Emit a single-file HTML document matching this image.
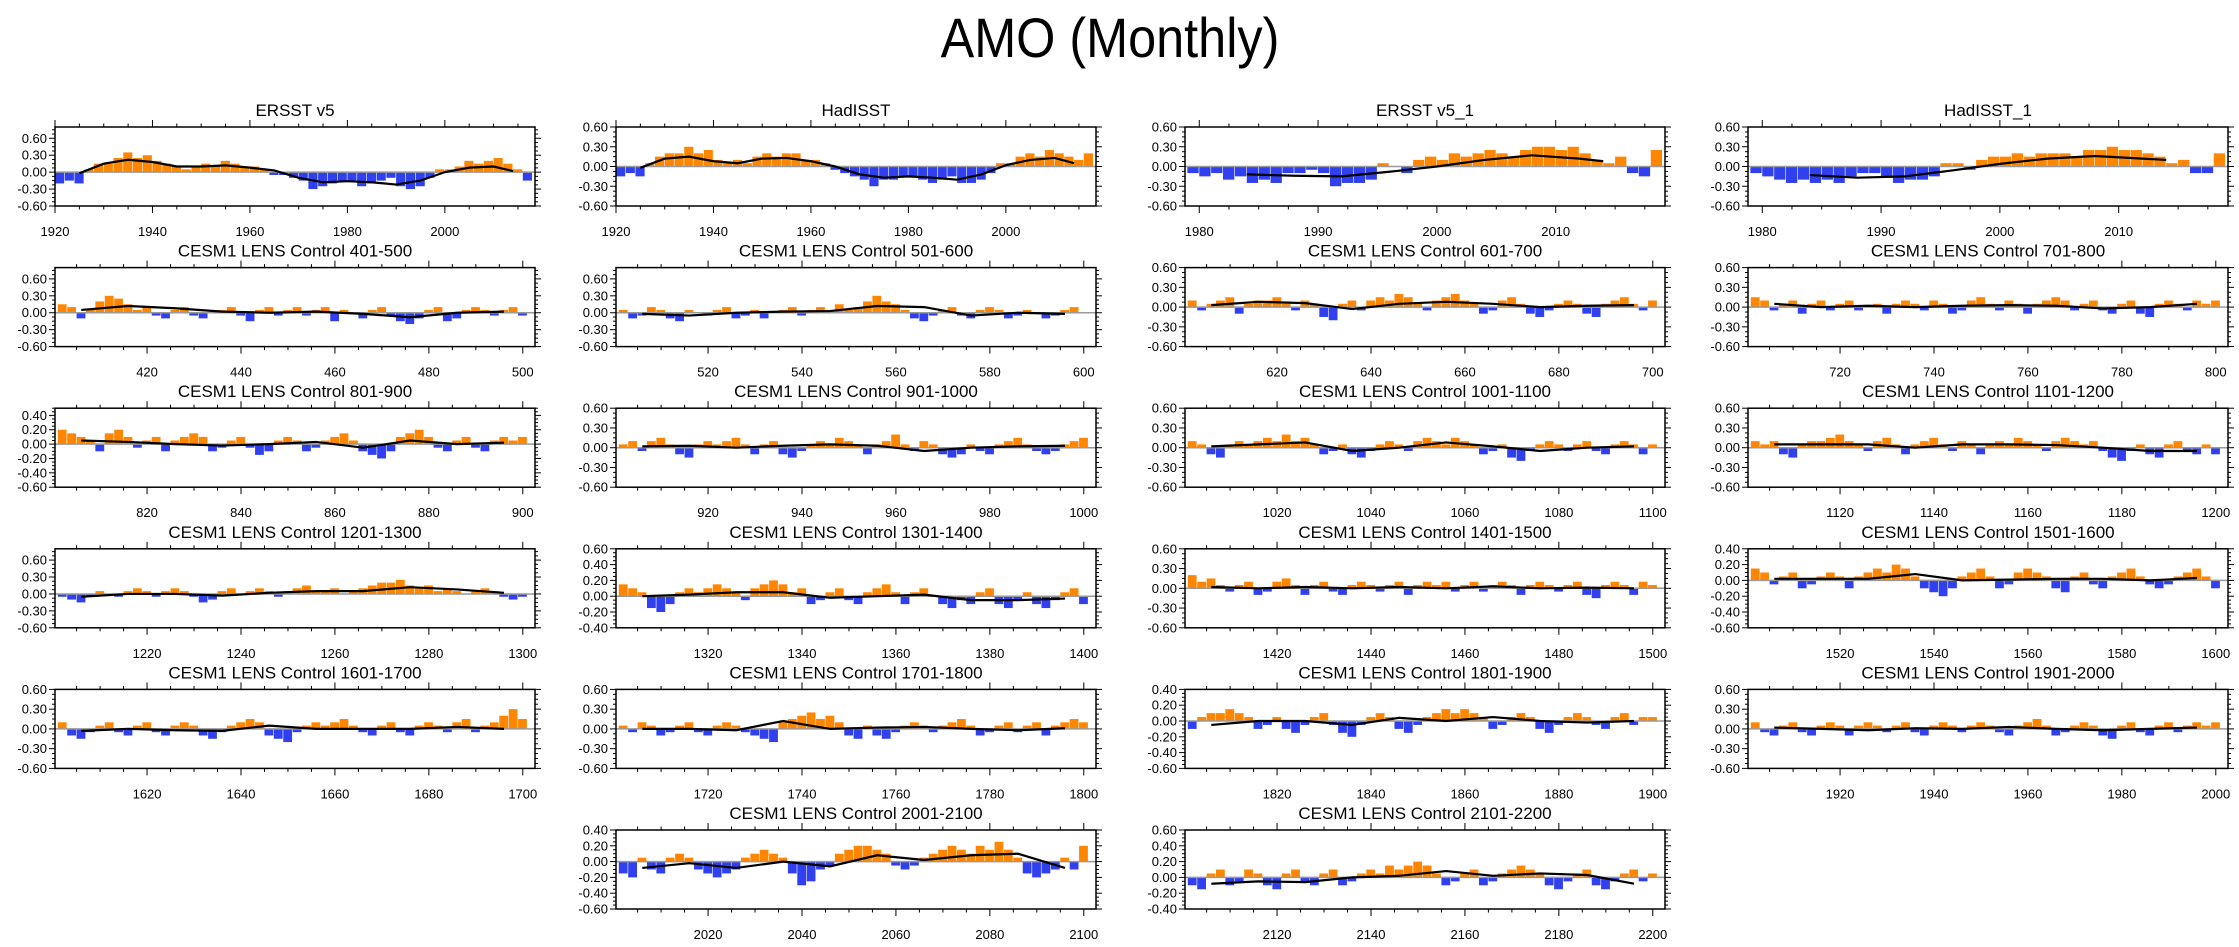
<!DOCTYPE html>
<html><head><meta charset="utf-8"><style>
html,body{margin:0;padding:0;background:#fff;}
svg{display:block;font-family:"Liberation Sans",sans-serif;}
</style></head><body>
<svg id="fig" width="2239" height="947" viewBox="0 0 2239 947">
<text x="1110" y="57" text-anchor="middle" font-size="56" transform="translate(1110 0) scale(0.9 1) translate(-1110 0)">AMO (Monthly)</text>
</svg>
<script>
const titles=["ERSST v5","HadISST","ERSST v5_1","HadISST_1",
"CESM1 LENS Control 401-500","CESM1 LENS Control 501-600","CESM1 LENS Control 601-700","CESM1 LENS Control 701-800",
"CESM1 LENS Control 801-900","CESM1 LENS Control 901-1000","CESM1 LENS Control 1001-1100","CESM1 LENS Control 1101-1200",
"CESM1 LENS Control 1201-1300","CESM1 LENS Control 1301-1400","CESM1 LENS Control 1401-1500","CESM1 LENS Control 1501-1600",
"CESM1 LENS Control 1601-1700","CESM1 LENS Control 1701-1800","CESM1 LENS Control 1801-1900","CESM1 LENS Control 1901-2000",
"CESM1 LENS Control 2001-2100","CESM1 LENS Control 2101-2200"];
const startYears=[1920,1920,1979,1979,401,501,601,701,801,901,1001,1101,1201,1301,1401,1501,1601,1701,1801,1901,2001,2101];
const endYears=[2018,2018,2019,2019,501,601,701,801,901,1001,1101,1201,1301,1401,1501,1601,1701,1801,1901,2001,2101,2201];
const binYears=[2,2,1,1,2,2,2,2,2,2,2,2,2,2,2,2,2,2,2,2,2,2];
const yMins=[-0.6,-0.6,-0.6,-0.6,-0.6,-0.6,-0.6,-0.6,-0.6,-0.6,-0.6,-0.6,-0.6,-0.4,-0.6,-0.6,-0.6,-0.6,-0.6,-0.6,-0.6,-0.4];
const yMaxs=[0.8,0.6,0.6,0.6,0.8,0.8,0.6,0.6,0.5,0.6,0.6,0.6,0.8,0.6,0.6,0.4,0.6,0.6,0.4,0.6,0.4,0.6];
const yStepTicks=[0.3,0.3,0.3,0.3,0.3,0.3,0.3,0.3,0.2,0.3,0.3,0.3,0.3,0.2,0.3,0.2,0.3,0.3,0.2,0.3,0.2,0.2];
const xTickSteps=[20,20,10,10,20,20,20,20,20,20,20,20,20,20,20,20,20,20,20,20,20,20];
const barVals=[
[-0.2,-0.15,-0.2,0.05,0.15,0.15,0.25,0.35,0.25,0.3,0.2,0.15,0.1,0.05,0.1,0.15,0.1,0.2,0.15,0.1,0.1,0.05,-0.05,-0.05,-0.1,-0.15,-0.3,-0.25,-0.2,-0.15,-0.15,-0.25,-0.2,-0.15,-0.1,-0.25,-0.3,-0.25,-0.1,0.05,0.05,0.1,0.2,0.15,0.2,0.25,0.15,0.05,-0.15],
[-0.15,-0.1,-0.15,0.05,0.15,0.2,0.2,0.3,0.2,0.25,0.1,0.05,0.1,0.05,0.15,0.2,0.15,0.2,0.2,0.1,0.1,0.05,-0.05,-0.1,-0.15,-0.2,-0.3,-0.2,-0.2,-0.15,-0.15,-0.2,-0.25,-0.2,-0.15,-0.25,-0.25,-0.2,-0.1,0.05,0.05,0.15,0.2,0.15,0.25,0.2,0.15,0.1,0.2],
[-0.1,-0.15,-0.1,-0.2,-0.15,-0.25,-0.2,-0.25,-0.1,-0.1,-0.05,-0.1,-0.3,-0.25,-0.25,-0.2,0.05,0.0,-0.1,0.1,0.15,0.1,0.2,0.15,0.2,0.25,0.2,0.15,0.25,0.3,0.3,0.25,0.3,0.2,0.1,0.05,0.15,-0.1,-0.15,0.25],
[-0.1,-0.15,-0.2,-0.25,-0.2,-0.25,-0.2,-0.25,-0.15,-0.1,-0.1,-0.15,-0.25,-0.2,-0.2,-0.15,0.05,0.05,-0.05,0.1,0.15,0.15,0.2,0.15,0.2,0.2,0.2,0.15,0.25,0.25,0.3,0.25,0.25,0.2,0.15,0.05,0.1,-0.1,-0.1,0.2],
[0.15,0.1,-0.1,0.05,0.2,0.3,0.25,0.15,0.05,0.1,-0.05,-0.1,0.05,0.1,-0.05,-0.1,0.0,0.05,0.1,-0.05,-0.15,0.05,0.1,-0.05,0.05,0.1,-0.05,0.05,0.1,-0.15,0.05,0.0,-0.1,0.05,0.1,-0.05,-0.15,-0.2,-0.1,0.05,0.1,-0.15,-0.1,0.05,0.1,0.05,-0.05,0.05,0.1,-0.05],
[0.05,-0.1,-0.05,0.1,0.05,-0.1,-0.15,0.05,0.0,-0.05,0.05,0.1,-0.1,-0.05,0.05,-0.1,0.0,0.05,0.1,-0.05,0.05,0.1,0.05,0.15,0.05,0.1,0.2,0.3,0.2,0.15,0.05,-0.1,-0.15,-0.05,0.05,0.1,-0.05,-0.1,0.05,0.1,0.05,-0.1,-0.05,0.05,0.0,-0.1,-0.05,0.05,0.1,0.0],
[0.1,-0.05,0.05,0.1,0.15,-0.1,0.05,0.1,0.1,0.15,0.05,-0.05,0.1,0.05,-0.15,-0.2,0.05,0.1,-0.05,0.1,0.15,0.1,0.2,0.15,0.05,-0.05,0.1,0.15,0.2,0.1,0.05,-0.1,-0.05,0.1,0.15,0.05,-0.1,-0.15,-0.05,0.05,0.1,0.05,-0.1,-0.15,0.05,0.1,0.15,0.05,-0.05,0.1],
[0.15,0.1,-0.05,0.05,0.1,-0.1,0.05,0.1,-0.05,0.05,0.1,-0.05,0.0,0.05,-0.1,0.05,0.1,0.05,-0.05,0.1,0.05,-0.1,-0.05,0.1,0.15,0.05,-0.05,0.1,0.05,-0.1,0.05,0.1,0.15,0.1,-0.05,0.05,0.1,-0.05,-0.1,0.05,0.1,-0.1,-0.15,0.05,0.1,0.05,-0.05,0.1,0.05,0.1],
[0.2,0.15,0.1,0.05,-0.1,0.15,0.2,0.1,-0.05,0.05,0.1,-0.1,0.05,0.1,0.15,0.1,-0.1,-0.05,0.05,0.1,-0.05,-0.15,-0.1,0.05,0.1,0.05,-0.1,-0.05,0.05,0.1,0.15,0.05,-0.1,-0.15,-0.2,-0.1,0.1,0.15,0.2,0.1,-0.05,-0.1,0.05,0.1,-0.05,-0.1,0.05,0.1,0.05,0.1],
[0.05,0.1,-0.05,0.1,0.15,0.05,-0.1,-0.15,0.05,0.1,0.05,0.1,0.15,0.05,-0.1,0.05,0.1,-0.1,-0.15,-0.05,0.05,0.1,0.05,0.15,0.1,0.05,-0.1,0.05,0.1,0.2,0.05,-0.05,0.1,0.05,-0.1,-0.15,-0.1,0.05,-0.05,-0.1,0.05,0.1,0.15,0.05,-0.05,-0.1,-0.05,0.05,0.1,0.15],
[0.1,0.05,-0.1,-0.15,0.05,0.1,0.05,0.1,0.15,0.1,0.2,0.1,0.15,0.05,-0.1,-0.05,0.05,-0.1,-0.15,-0.05,0.05,0.1,0.05,-0.05,0.1,0.15,0.1,0.05,0.15,0.1,0.05,-0.1,-0.05,0.05,-0.15,-0.2,-0.05,0.05,0.1,0.05,-0.05,0.05,0.1,-0.05,-0.1,0.05,0.1,0.05,-0.1,0.05],
[0.1,0.05,0.1,-0.1,-0.15,0.05,0.1,0.1,0.15,0.2,0.1,0.05,-0.05,0.1,0.15,0.05,-0.1,0.05,0.1,0.15,0.05,-0.05,0.1,0.05,-0.1,0.05,0.1,0.05,0.15,0.1,0.05,-0.05,0.1,0.15,0.1,0.05,0.1,-0.05,-0.15,-0.2,-0.05,0.05,-0.1,-0.15,0.05,0.1,-0.05,-0.1,0.05,-0.1],
[-0.05,-0.1,-0.15,-0.05,0.05,0.0,-0.05,0.05,0.1,0.05,-0.05,0.05,0.1,0.05,-0.05,-0.15,-0.1,0.05,0.1,0.0,0.05,0.1,0.05,-0.05,0.05,0.1,0.15,0.05,0.05,0.1,0.0,0.05,0.1,0.15,0.2,0.2,0.25,0.15,0.1,0.15,0.05,0.1,0.05,0.0,0.05,0.1,0.05,-0.05,-0.1,-0.05],
[0.15,0.1,0.05,-0.15,-0.2,-0.1,0.05,0.1,0.05,0.1,0.15,0.1,0.05,-0.05,0.1,0.15,0.2,0.15,0.05,0.1,-0.1,-0.05,0.05,0.1,-0.05,-0.1,0.05,0.1,0.15,0.05,-0.1,0.05,0.1,0.0,-0.1,-0.15,-0.05,-0.1,0.05,0.1,-0.1,-0.15,-0.05,0.05,-0.1,-0.15,-0.05,0.05,0.1,-0.1],
[0.2,0.1,0.15,0.05,-0.05,0.05,0.1,-0.1,-0.05,0.1,0.15,0.05,-0.1,0.05,0.1,-0.05,-0.1,0.05,0.1,0.05,-0.05,0.05,0.1,-0.1,0.05,0.1,0.05,0.1,-0.05,0.05,0.1,-0.05,0.05,0.1,0.05,-0.1,0.05,0.1,0.05,-0.05,0.05,0.1,-0.1,-0.15,0.05,0.1,0.05,-0.1,0.1,0.05],
[0.15,0.1,-0.05,0.05,0.1,-0.1,-0.05,0.05,0.1,0.05,-0.1,0.05,0.1,0.15,0.1,0.2,0.15,0.05,-0.1,-0.15,-0.2,-0.1,0.05,0.1,0.15,0.05,-0.1,-0.05,0.1,0.15,0.1,0.05,-0.1,-0.15,0.05,0.1,-0.05,-0.1,0.05,0.1,0.15,0.05,-0.05,-0.1,-0.05,0.05,0.1,0.15,0.05,-0.1],
[0.1,-0.1,-0.15,-0.05,0.05,0.1,-0.05,-0.1,0.05,0.1,-0.05,-0.1,0.05,0.1,0.05,-0.1,-0.15,-0.05,0.05,0.1,0.15,0.1,-0.1,-0.15,-0.2,-0.05,0.05,0.1,0.05,0.1,0.15,0.05,-0.05,-0.1,0.05,0.1,-0.05,-0.1,0.05,0.1,0.05,-0.05,0.1,0.15,-0.05,0.05,0.1,0.2,0.3,0.15],
[0.05,-0.05,0.1,0.05,-0.1,-0.05,0.05,0.1,-0.05,-0.1,0.05,0.1,0.05,-0.05,-0.1,-0.15,-0.2,0.1,0.15,0.2,0.25,0.15,0.2,0.1,-0.1,-0.15,0.05,-0.1,-0.15,-0.05,0.05,0.1,0.05,-0.05,0.05,0.1,0.15,0.05,-0.1,-0.05,0.05,0.1,-0.05,0.05,0.1,-0.1,0.05,0.1,0.15,0.1],
[-0.1,0.05,0.1,0.1,0.15,0.1,0.05,-0.1,-0.05,0.05,-0.1,-0.15,-0.05,0.05,0.1,-0.05,-0.15,-0.2,-0.05,0.05,0.1,0.05,-0.1,-0.15,-0.05,0.05,0.1,0.15,0.1,0.15,0.1,0.05,-0.1,-0.05,0.05,0.1,0.05,-0.1,-0.15,-0.05,0.05,0.1,0.05,-0.05,-0.1,0.05,0.1,-0.05,0.05,0.05],
[0.1,-0.05,-0.1,0.05,0.1,-0.05,-0.1,0.05,0.1,0.05,-0.1,0.05,0.1,0.05,-0.05,0.05,0.1,-0.05,-0.1,0.05,0.1,0.05,-0.05,0.05,0.1,0.05,-0.05,-0.1,0.05,0.1,0.15,0.05,-0.1,-0.05,0.05,0.1,0.05,-0.1,-0.15,0.05,0.1,-0.05,-0.1,0.05,0.1,-0.05,0.05,0.1,0.05,0.1],
[-0.15,-0.2,0.05,-0.1,-0.15,0.05,0.1,0.05,-0.1,-0.15,-0.2,-0.15,-0.1,0.05,0.1,0.15,0.1,0.05,-0.15,-0.3,-0.25,-0.1,-0.05,0.1,0.15,0.2,0.2,0.15,0.1,-0.05,-0.1,-0.05,0.05,0.1,0.15,0.2,0.15,0.1,0.2,0.15,0.25,0.15,0.05,-0.15,-0.2,-0.15,-0.1,0.05,-0.1,0.2],
[-0.1,-0.15,0.05,0.1,-0.1,-0.05,0.1,0.05,-0.1,-0.15,0.05,0.1,-0.05,-0.1,0.05,0.1,-0.1,-0.05,0.05,0.1,0.05,0.15,0.1,0.15,0.2,0.15,0.05,-0.1,-0.05,0.05,0.1,-0.1,-0.05,0.05,0.1,0.15,0.1,0.05,-0.1,-0.15,-0.05,0.05,0.1,-0.1,-0.15,-0.05,0.05,0.1,-0.05,0.05]
];
const smoothYears=[
[1925,1930,1935,1940,1945,1950,1955,1960,1965,1970,1975,1980,1985,1990,1995,2000,2005,2010,2014],
[1925,1930,1935,1940,1945,1950,1955,1960,1965,1970,1975,1980,1985,1990,1995,2000,2005,2010,2014],
[1984,1988,1992,1996,2000,2004,2008,2012,2014],
[1984,1988,1992,1996,2000,2004,2008,2012,2014]];
const smoothObs=[
[-0.02,0.15,0.22,0.18,0.1,0.1,0.12,0.08,0.03,-0.1,-0.18,-0.16,-0.18,-0.22,-0.15,0.0,0.08,0.1,0.02],
[-0.02,0.12,0.15,0.08,0.05,0.12,0.13,0.08,0.0,-0.12,-0.17,-0.15,-0.17,-0.2,-0.12,0.02,0.1,0.13,0.05],
[-0.12,-0.14,-0.15,-0.08,0.0,0.1,0.17,0.12,0.08],
[-0.13,-0.17,-0.15,-0.06,0.04,0.12,0.16,0.12,0.1]];
const smoothCesm=[
[0.05,0.12,0.08,0.02,0.0,0.02,-0.02,-0.08,0.0,0.02],
[-0.02,-0.05,0.0,0.02,0.03,0.12,0.1,-0.05,0.0,-0.02],
[0.03,0.08,0.06,-0.03,0.05,0.08,0.05,0.0,0.02,0.03],
[0.05,0.0,0.02,0.0,0.02,0.03,0.02,-0.02,0.0,0.05],
[0.05,0.03,0.0,-0.02,0.0,0.03,-0.05,0.05,0.0,0.02],
[0.02,0.03,0.0,0.03,0.05,0.03,-0.05,0.0,0.02,0.03],
[0.02,0.05,0.08,-0.05,0.0,0.08,0.02,-0.05,0.0,0.02],
[0.05,0.05,0.05,0.0,0.05,0.05,0.04,0.0,-0.05,-0.05],
[-0.05,0.0,0.0,-0.03,0.02,0.05,0.05,0.12,0.08,0.02],
[0.0,0.02,0.05,0.05,-0.02,0.0,0.02,-0.05,-0.05,-0.03],
[0.02,0.0,0.02,0.0,0.02,0.0,0.03,0.0,0.01,0.0],
[0.02,0.02,0.02,0.08,0.0,0.01,0.02,0.02,0.0,0.03],
[-0.03,0.0,-0.02,-0.03,0.05,0.0,0.0,0.0,0.03,0.0],
[0.0,0.0,-0.02,0.12,0.0,0.02,0.03,0.0,-0.02,0.01],
[-0.05,0.0,0.0,-0.05,0.04,0.0,0.05,0.0,-0.02,0.0],
[0.02,0.0,-0.02,0.01,0.0,0.03,0.0,-0.02,0.0,0.02],
[-0.06,-0.05,-0.03,-0.03,0.0,-0.02,0.03,0.02,-0.01,0.04],
[-0.09,-0.05,-0.08,-0.05,0.03,-0.04,0.0,0.06,0.1,0.04],
[0.05,0.01,-0.01,0.04,0.05,0.01,-0.01,0.04,0.15,0.05]
];
const cesmSmoothFix=[0,0,0,0,0,0,0,0,0,0,0,0,0,0,0,0,0,0];
</script>
<script>
const svg=document.getElementById('fig');
const NS='http://www.w3.org/2000/svg';
const colLeft=[55,616,1185,1748], W=480, H=79;
function mk(tag,attrs,parent){const e=document.createElementNS(NS,tag);for(const k in attrs)e.setAttribute(k,attrs[k]);(parent||svg).appendChild(e);return e;}
const smoothAll=[smoothObs[0],smoothObs[1],smoothObs[2],smoothObs[3]].concat([
 smoothCesm[0],smoothCesm[1],smoothCesm[2],smoothCesm[3],smoothCesm[4],smoothCesm[5],smoothCesm[6],smoothCesm[7],
 smoothCesm[8],smoothCesm[9],smoothCesm[10],smoothCesm[11],smoothCesm[12],smoothCesm[13],smoothCesm[14],smoothCesm[15],
 smoothCesm[16],smoothCesm[17],smoothCesm[18],smoothCesm[18]]);
const smoothCesmLast=[-0.08,-0.05,-0.06,0.0,0.02,0.08,0.02,0.05,0.03,-0.08];
smoothAll[21]=smoothCesmLast;
smoothAll[20]=[-0.08,-0.02,-0.08,0.0,-0.06,0.08,0.02,0.08,0.1,-0.08];
for(let i=0;i<titles.length;i++){
  const r=i<20?Math.floor(i/4):5, c=i<20?i%4:(i-20)+1;
  const L=colLeft[c], T=127+140.6*r;
  const x0=i<2?1920:(i<4?1978.8:startYears[i]-0.6), x1=i<2?2018.5:(i<4?2019.2:startYears[i]+101.6);
  const ymin=yMins[i], ymax=yMaxs[i];
  const X=v=>L+(v-x0)/(x1-x0)*W, Y=v=>T+(ymax-v)/(ymax-ymin)*H;
  const g=mk('g',{});
  
  
  const t=mk('text',{x:L+W/2,y:T-11,'text-anchor':'middle','font-size':17},g);
  t.textContent=titles[i];
  
  
  // bars
  const vals=barVals[i], b=binYears[i], s=startYears[i];
  for(let k=0;k<vals.length;k++){
    const v=vals[k], xa=X(s+k*b), xb=X(s+(k+1)*b);
    const rect=mk('rect',{x:xa,y:Math.min(Y(v),Y(0)),width:Math.max(0.5,xb-xa-0.6),height:Math.abs(Y(v)-Y(0)),fill:v>=0?'#ff8600':'#3040ee'},g);
    
    
  }
  mk('line',{x1:L,x2:L+W,y1:Y(0),y2:Y(0),stroke:'#999','stroke-width':1.5},g);
  // smooth line
  const sv=smoothAll[i];
  const sy=i<4?smoothYears[i]:sv.map((_,k)=>s+5+k*10);
  const pl=mk('polyline',{points:sv.map((v,k)=>X(sy[k])+','+Y(v)).join(' '),fill:'none',stroke:'#000','stroke-width':2.2},g);
  
  
  // frame
  mk('rect',{x:L,y:T,width:W,height:H,fill:'none',stroke:'#000','stroke-width':1.5},g);
  // y ticks
  const st=yStepTicks[i];
  for(let v=ymin;v<=ymax+1e-6;v+=st/4){
    const major=Math.abs(Math.round(v/st)*st-v)<1e-6;
    const len=major?6:3;
    mk('line',{x1:L-len,x2:L,y1:Y(v),y2:Y(v),stroke:'#000','stroke-width':1},g);
    mk('line',{x1:L+W,x2:L+W+len,y1:Y(v),y2:Y(v),stroke:'#000','stroke-width':1},g);
    if(major){const tl=mk('text',{x:L-8,y:Y(v)+4.5,'text-anchor':'end','font-size':13},g);tl.textContent=v.toFixed(2).replace('-0.00','0.00');
      
      }
  }
  // x ticks
  const xs=xTickSteps[i], mn=xs/4;
  for(let yr=Math.ceil(x0/mn)*mn;yr<=x1;yr+=mn){
    const major=yr%xs===0, len=major?7:3.5;
    mk('line',{x1:X(yr),x2:X(yr),y1:T+H,y2:T+H+len,stroke:'#000','stroke-width':1},g);
    mk('line',{x1:X(yr),x2:X(yr),y1:T-len,y2:T,stroke:'#000','stroke-width':1},g);
    if(major){const tl=mk('text',{x:X(yr),y:T+H+30,'text-anchor':'middle','font-size':13},g);tl.textContent=yr;
      
      }
  }
}
</script>
</body></html>
